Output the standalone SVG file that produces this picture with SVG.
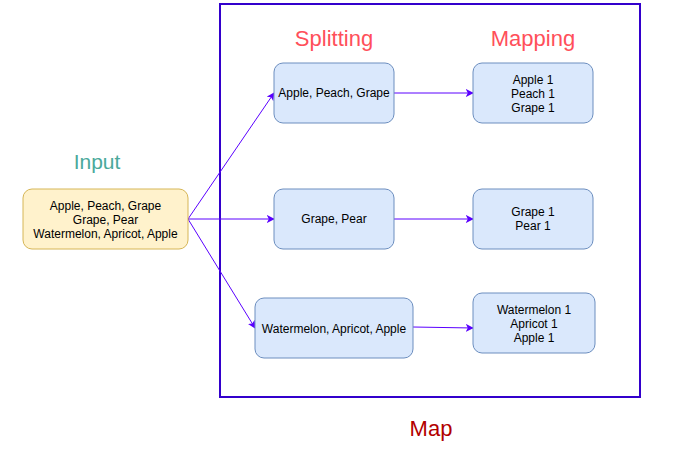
<svg xmlns="http://www.w3.org/2000/svg" width="685" height="459" viewBox="0 0 685 459">
<defs>
<style>
.t{font-family:"Liberation Sans",Arial,sans-serif;font-size:12px;fill:#000;text-anchor:middle}
.h{font-family:"Liberation Sans",Arial,sans-serif;font-size:22px;text-anchor:middle}
.b{fill:#dae8fc;stroke:#6c8ebf;stroke-width:1}
.c{fill:none;stroke:#5a00ff;stroke-width:1;marker-end:url(#ah)}
</style>
<marker id="ah" viewBox="0 0 10 10" refX="9" refY="5" markerWidth="8" markerHeight="8" markerUnits="userSpaceOnUse" orient="auto">
<path d="M0,0 L10,5 L0,10 L2.5,5 Z" fill="#5a00ff"/>
</marker>
</defs>
<rect width="685" height="459" fill="#fff"/>
<g id="map-frame">
<rect x="220" y="4" width="420" height="393" fill="none" stroke="#3300cc" stroke-width="2"/>
</g>
<g id="labels">
<text class="h" x="97" y="169" fill="#4aa99b" style="font-size:21px">Input</text>
<text class="h" x="334" y="46" fill="#ff4f5a">Splitting</text>
<text class="h" x="533" y="46" fill="#ff4f5a">Mapping</text>
<text class="h" x="431" y="436" fill="#b20000">Map</text>
</g>
<g id="connectors">
<path class="c" d="M188,219 L274,93"/>
<path class="c" d="M188,219 L274,219"/>
<path class="c" d="M188,219 L255,328"/>
<path class="c" d="M394,93 L473,93"/>
<path class="c" d="M394,219 L473,219"/>
<path class="c" d="M413,327 L473,328"/>
</g>
<g id="input">
<rect x="23" y="189" width="165" height="60" rx="9" fill="#fff2cc" stroke="#d6b656"/>
<text class="t" x="105.5" y="210">Apple, Peach, Grape</text>
<text class="t" x="105.5" y="224">Grape, Pear</text>
<text class="t" x="105.5" y="238">Watermelon, Apricot, Apple</text>
</g>
<g id="split1">
<rect class="b" x="274" y="63" width="120" height="60" rx="9"/>
<text class="t" x="334" y="97">Apple, Peach, Grape</text>
</g>
<g id="split2">
<rect class="b" x="274" y="189" width="120" height="60" rx="9"/>
<text class="t" x="334" y="223">Grape, Pear</text>
</g>
<g id="split3">
<rect class="b" x="255" y="298" width="158" height="60" rx="9"/>
<text class="t" x="334" y="333">Watermelon, Apricot, Apple</text>
</g>
<g id="map1">
<rect class="b" x="473" y="63" width="120" height="60" rx="9"/>
<text class="t" x="533" y="84">Apple 1</text>
<text class="t" x="533" y="98">Peach 1</text>
<text class="t" x="533" y="112">Grape 1</text>
</g>
<g id="map2">
<rect class="b" x="473" y="189" width="120" height="60" rx="9"/>
<text class="t" x="533" y="216">Grape 1</text>
<text class="t" x="533" y="230">Pear 1</text>
</g>
<g id="map3">
<rect class="b" x="473" y="293" width="122" height="60" rx="9"/>
<text class="t" x="534" y="314">Watermelon 1</text>
<text class="t" x="534" y="328">Apricot 1</text>
<text class="t" x="534" y="342">Apple 1</text>
</g>
</svg>
